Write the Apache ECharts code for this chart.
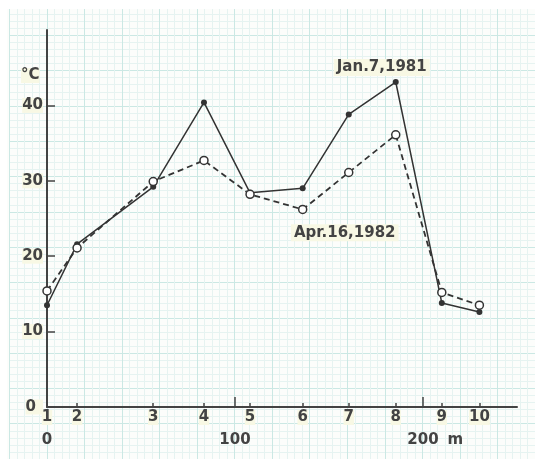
<!DOCTYPE html>
<html>
<head>
<meta charset="utf-8">
<script src="https://cdn.jsdelivr.net/npm/echarts@6/dist/echarts.min.js"></script>
<style>
  html, body { margin: 0; padding: 0; background: #ffffff; }
  #chart { width: 535px; height: 459px; }
</style>
</head>
<body>
<div id="chart"></div>
<script>
// Station numbers along the traverse and their distance from station 1 (m)
const stations = ['1', '2', '3', '4', '5', '6', '7', '8', '9', '10'];
const distanceM = [0, 16, 56.5, 83.5, 108, 136, 160.5, 185.5, 210, 230];

// Temperatures (°C) measured at each station
const jan1981 = [13.5, 21.6, 29.2, 40.4, 28.4, 29.0, 38.8, 43.1, 13.8, 12.6];
const apr1982 = [15.4, 21.1, 29.9, 32.7, 28.2, 26.2, 31.1, 36.1, 15.2, 13.5];

// Axis tick labels
const tempTicks = [0, 10, 20, 30, 40];
const distanceTicks = [0, 100, 200];

const ink = '#434343';
const font = 'DejaVu Sans';
const weight = 'bold';
const labelBg = '#f8f8e4';

const chart = echarts.init(document.getElementById('chart'), null, { renderer: 'canvas' });

const toPairs = vals => distanceM.map((d, i) => [d, vals[i]]);

const janData = toPairs(jan1981).map((p, i) => i === 7 ? {
  value: p,
  label: {
    show: true, formatter: 'Jan.7,1981', position: 'top', offset: [-14, 2],
    color: ink, fontFamily: font, fontWeight: weight, fontSize: 15,
    backgroundColor: labelBg, padding: [1, 3]
  }
} : p);

const aprData = toPairs(apr1982).map((p, i) => i === 6 ? {
  value: p,
  label: {
    show: true, formatter: 'Apr.16,1982', position: 'bottom', offset: [-4, 42],
    color: ink, fontFamily: font, fontWeight: weight, fontSize: 15,
    backgroundColor: labelBg, padding: [1, 3]
  }
} : p);

const major = '#cbe8e4';
const minor = '#e6f3f1';

const option = {
  animation: false,
  backgroundColor: '#fcfdfb',
  grid: [
    // main plotting area
    { left: 47, top: 30, width: 470, height: 377 },
    // graph-paper ruling, same scale as the plot, spread over the sheet
    { left: 9.4, top: -7.7, width: 526.4, height: 490.1 }
  ],
  xAxis: [
    {
      gridIndex: 0, type: 'value', min: 0, max: 250,
      axisLine: { show: true, lineStyle: { color: ink, width: 2 } },
      axisTick: { show: true, inside: true, length: 4, customValues: distanceM,
                  lineStyle: { color: ink, width: 1.5 } },
      axisLabel: {
        show: true, customValues: distanceM, margin: 3,
        formatter: v => stations[distanceM.indexOf(v)],
        color: ink, fontFamily: font, fontWeight: weight, fontSize: 15, backgroundColor: labelBg
      },
      splitLine: { show: false }
    },
    {
      gridIndex: 0, type: 'value', min: 0, max: 250, position: 'bottom',
      axisLine: { show: false },
      axisTick: { show: true, inside: true, length: 10, customValues: [100, 200],
                  lineStyle: { color: ink, width: 1.5 } },
      axisLabel: {
        show: true, customValues: distanceTicks, margin: 26,
        formatter: v => v === 200 ? '{p|}200{u| m}' : String(v),
        color: ink, fontFamily: font, fontWeight: weight, fontSize: 15,
        rich: {
          p: { width: 28 },
          u: { color: ink, fontFamily: font, fontWeight: weight, fontSize: 15, width: 28, align: 'left' }
        }
      },
      splitLine: { show: false }
    },
    {
      gridIndex: 1, type: 'value', min: -20, max: 260, interval: 20,
      axisLine: { show: false }, axisTick: { show: false }, axisLabel: { show: false },
      minorTick: { show: false, splitNumber: 5 },
      splitLine: { show: true, lineStyle: { color: major, width: 1 } },
      minorSplitLine: { show: true, lineStyle: { color: minor, width: 1 } }
    }
  ],
  yAxis: [
    {
      gridIndex: 0, type: 'value', min: 0, max: 50, interval: 10,
      axisLine: { show: true, lineStyle: { color: ink, width: 2 } },
      axisTick: { show: true, inside: true, length: 8, customValues: tempTicks,
                  lineStyle: { color: ink, width: 1.5 } },
      axisLabel: {
        show: true, customValues: tempTicks, margin: 4,
        formatter: v => v === 0 ? '{z|0}' : String(v),
        color: ink, fontFamily: font, fontWeight: weight, fontSize: 15, backgroundColor: labelBg,
        rich: { z: { color: ink, fontFamily: font, fontWeight: weight, fontSize: 15, padding: [0, 7, 0, 0] } }
      },
      splitLine: { show: false }
    },
    {
      gridIndex: 1, type: 'value', min: -10, max: 55, interval: 5,
      axisLine: { show: false }, axisTick: { show: false }, axisLabel: { show: false },
      minorTick: { show: false, splitNumber: 5 },
      splitLine: { show: true, lineStyle: { color: major, width: 1 } },
      minorSplitLine: { show: true, lineStyle: { color: minor, width: 1 } }
    }
  ],
  graphic: [
    // unruled margin of the sheet
    { type: 'rect', z: 10, shape: { x: 0, y: 0, width: 535, height: 9 }, style: { fill: '#ffffff' } },
    { type: 'rect', z: 10, shape: { x: 0, y: 0, width: 7, height: 459 }, style: { fill: '#ffffff' } },
    // unit of the temperature axis
    { type: 'text', z: 20, x: 21, y: 68,
      style: { text: '°C', fill: ink, font: 'bold 15px "DejaVu Sans"', backgroundColor: labelBg } }
  ],
  series: [
    {
      name: 'Jan.7,1981', type: 'line', xAxisIndex: 0, yAxisIndex: 0,
      data: janData,
      lineStyle: { color: '#333', width: 1.5, type: 'solid' },
      itemStyle: { color: '#333', borderColor: '#333', borderWidth: 0 },
      symbol: 'circle', symbolSize: 6, z: 3
    },
    {
      name: 'Apr.16,1982', type: 'line', xAxisIndex: 0, yAxisIndex: 0,
      data: aprData,
      lineStyle: { color: '#333', width: 1.8, type: [6, 4] },
      itemStyle: { color: '#ffffff', borderColor: '#333', borderWidth: 1.5 },
      symbol: 'circle', symbolSize: 8, z: 4
    }
  ]
};

chart.setOption(option);
</script>
</body>
</html>
